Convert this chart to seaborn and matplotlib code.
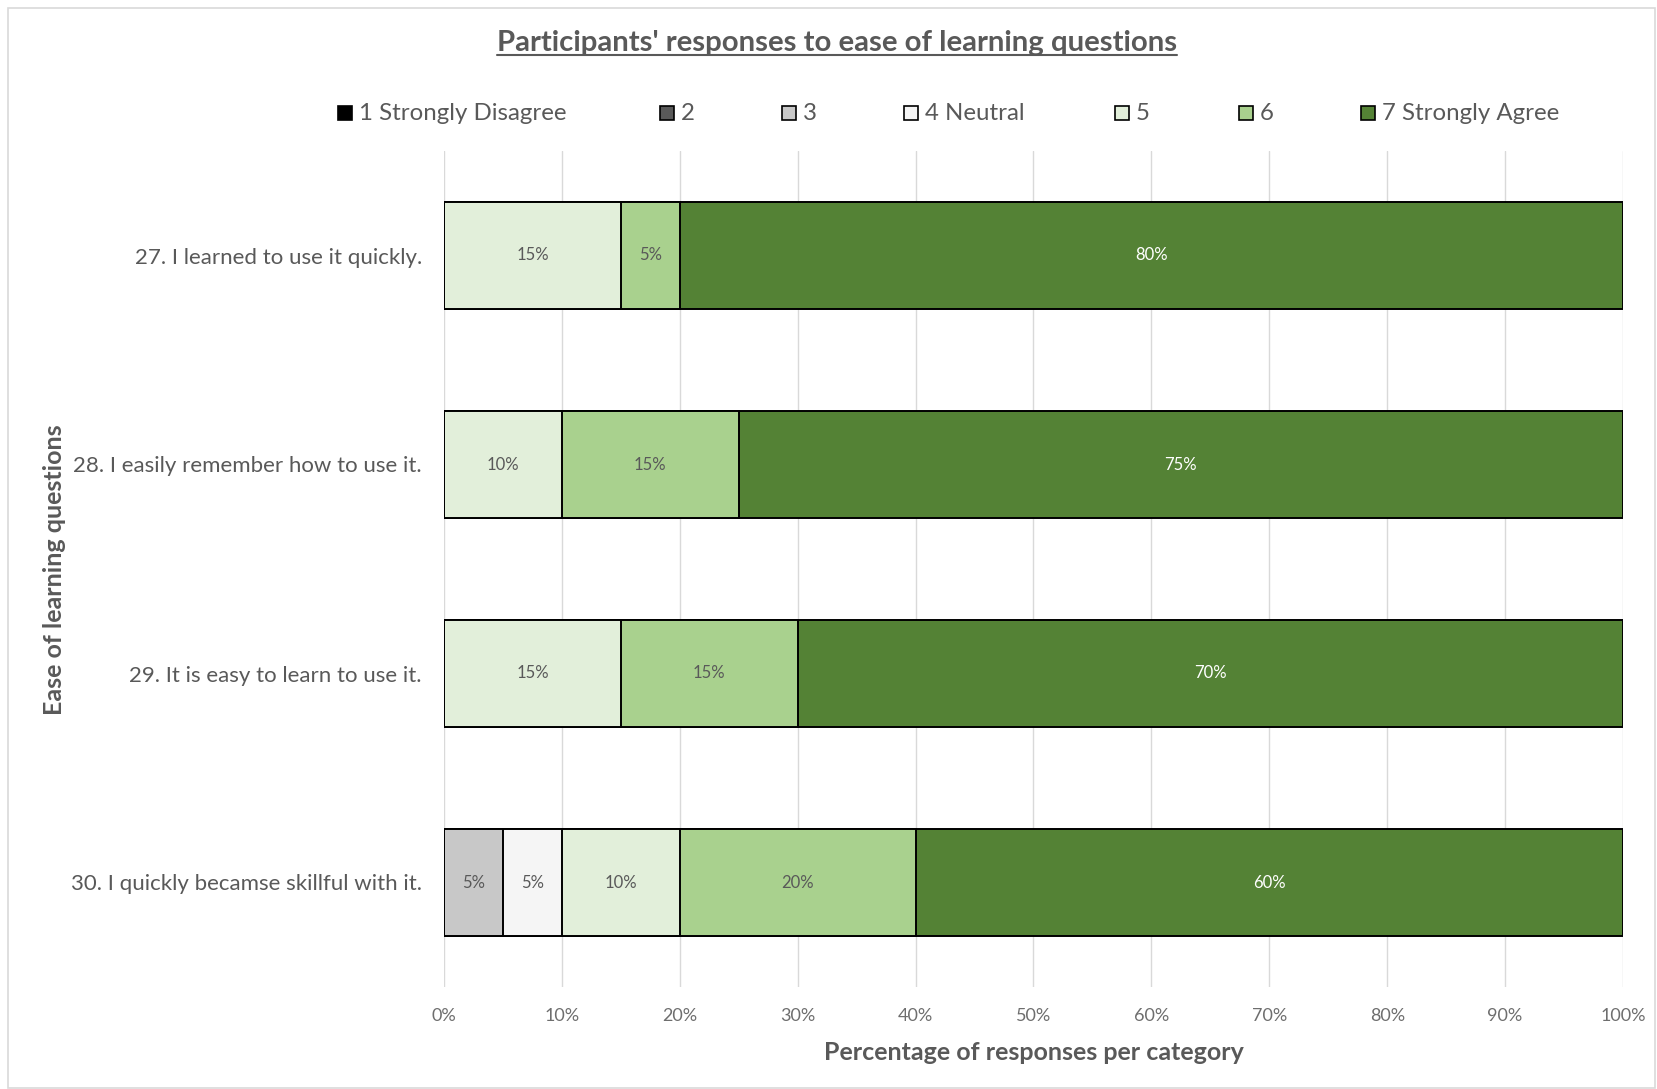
import matplotlib
matplotlib.use("Agg")
import matplotlib.pyplot as plt
import matplotlib.patches as mpatches
import matplotlib.lines as mlines
import numpy as np
import pandas as pd
import seaborn as sns

# Survey questions and the percentage of answers on each point of the 7-point scale
questions = [
    "27. I learned to use it quickly.",
    "28. I easily remember how to use it.",
    "29. It is easy to learn to use it.",
    "30. I quickly becamse skillful with it.",
]
scale_labels = ["1 Strongly Disagree", "2", "3", "4 Neutral", "5", "6", "7 Strongly Agree"]
strongly_disagree = [0, 0, 0, 0]
disagree = [0, 0, 0, 0]
somewhat_disagree = [0, 0, 0, 5]
neutral = [0, 0, 0, 5]
somewhat_agree = [15, 10, 15, 10]
agree = [5, 15, 15, 20]
strongly_agree = [80, 75, 70, 60]

tick_values = [0, 10, 20, 30, 40, 50, 60, 70, 80, 90, 100]
tick_labels = [f"{v}%" for v in tick_values]

colors = ["#000000", "#595959", "#C8C8C8", "#F5F5F5", "#E2EFDA", "#A9D18E", "#548235"]
label_colors = ["#FFFFFF", "#FFFFFF", "#595959", "#595959", "#595959", "#595959", "#FFFFFF"]

series = [strongly_disagree, disagree, somewhat_disagree, neutral,
          somewhat_agree, agree, strongly_agree]
values = np.array(series, dtype=float)          # shape (7, 4)
cumulative = np.cumsum(values, axis=0)

text_color = "#595959"
font = "Lato"

sns.set_theme(style="white")
plt.rcParams["font.family"] = [font, "DejaVu Sans"]

W, H = 1657, 1089
fig = plt.figure(figsize=(W / 100, H / 100), dpi=100)
ax = fig.add_axes([444 / W, 1 - 987 / H, (1623 - 444) / W, (987 - 151) / H])

# Stacked bars: draw cumulative totals from the outermost level inward
for k in range(len(series) - 1, -1, -1):
    df = pd.DataFrame({"question": questions, "cum": cumulative[k]})
    sns.barplot(data=df, x="cum", y="question", order=questions, orient="h",
                color=colors[k], saturation=1, width=0.51,
                edgecolor="black", linewidth=1.4, ax=ax, zorder=3)

# Value labels in the middle of each segment
for k in range(len(series)):
    for i, q in enumerate(questions):
        v = values[k, i]
        if v > 0:
            center = cumulative[k, i] - v / 2
            ax.text(center, i, f"{v:.0f}%", ha="center", va="center",
                    fontsize=12, color=label_colors[k], zorder=5)

ax.set_xlim(0, 100)
ax.set_ylim(3.5, -0.5)
ax.set_xticks(tick_values)
ax.set_xticklabels(tick_labels, fontsize=13, color="#6E6E6E")
ax.tick_params(axis="x", length=0, pad=15)
ax.tick_params(axis="y", length=0, pad=16, labelsize=16, labelcolor=text_color)
ax.xaxis.grid(True, color="#D9D9D9", linewidth=1.0, zorder=0)
ax.set_axisbelow(True)
for s in ax.spines.values():
    s.set_visible(False)

ax.set_xlabel("Percentage of responses per category", fontsize=18,
              fontweight="bold", color=text_color, labelpad=12)
ax.set_ylabel("")
fig.text(55 / W, 1 - 570 / H, "Ease of learning questions", rotation=90,
         ha="center", va="center", fontsize=18, fontweight="bold", color=text_color)

# Underlined title
title = fig.text(837 / W, 1 - 51 / H, "Participants' responses to ease of learning questions",
                 ha="center", va="baseline", fontsize=21.2, fontweight="bold", color=text_color)
fig.canvas.draw()
bb = title.get_window_extent().transformed(fig.transFigure.inverted())
uy = 1 - 55 / H
fig.add_artist(mlines.Line2D([bb.x0, bb.x1], [uy, uy], transform=fig.transFigure,
                             color=text_color, linewidth=1.5))

# Legend entries laid out along the top
legend_x = [338, 660, 782, 904, 1115, 1239, 1361]
legend_y = 1 - 113 / H
sq_w, sq_h = 14 / W, 14 / H
for x, lab, c in zip(legend_x, scale_labels, colors):
    fx = x / W
    fig.add_artist(mpatches.Rectangle((fx, legend_y - sq_h / 2), sq_w, sq_h,
                                      transform=fig.transFigure, facecolor=c,
                                      edgecolor="black", linewidth=1.2))
    fig.text(fx + 21 / W, legend_y, lab, ha="left", va="center",
             fontsize=17.3, color=text_color)

# Chart frame
fig.add_artist(mpatches.Rectangle((8 / W, 1 / H), (1655 - 8) / W, (1081 - 1) / H,
                                  transform=fig.transFigure, fill=False,
                                  edgecolor="#D9D9D9", linewidth=1.2))

fig.savefig("out.png", dpi=100, facecolor="white")
